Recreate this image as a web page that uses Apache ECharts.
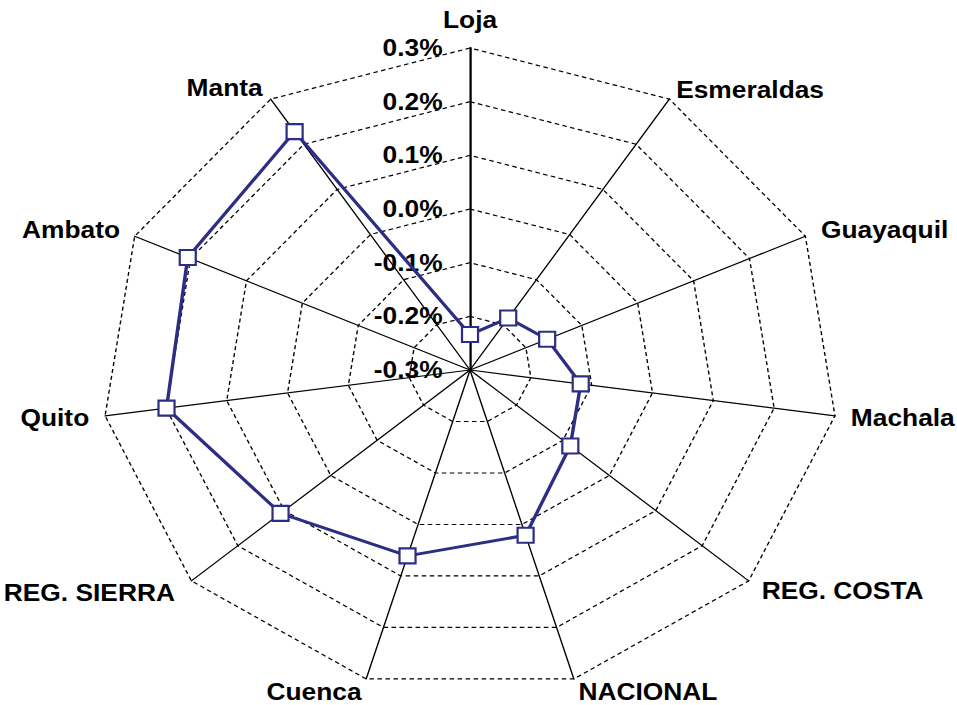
<!DOCTYPE html>
<html>
<head>
<meta charset="utf-8">
<script src="https://cdn.jsdelivr.net/npm/echarts@6/dist/echarts.min.js"></script>
<style>
  html, body { margin: 0; padding: 0; background: #fff; overflow: hidden; }
  /* the original picture is stretched sideways, so the chart is too */
  #radar { position: absolute; left: 0; top: 0; width: 836px; height: 705px;
           transform: scaleX(1.145); transform-origin: 0 0; }
</style>
</head>
<body>
<div id="radar"></div>
<script>
// clockwise from the top, as in the picture
var cities = ['Loja', 'Esmeraldas', 'Guayaquil', 'Machala', 'REG. COSTA', 'NACIONAL',
              'Cuenca', 'REG. SIERRA', 'Quito', 'Ambato', 'Manta'];
var values = [-0.234, -0.185, -0.162, -0.118, -0.084, 0.021, 0.061, 0.108, 0.199, 0.205, 0.228];
var nameGaps = [16, 11, 15, 14, 15, 14, 14, 19, 14, 14, 13];
var axisMin = -0.3;
var axisMax = 0.3;

var chartDom = document.getElementById('radar');
var myChart = echarts.init(chartDom, null, { renderer: 'svg' });
var option;

// echarts goes counter-clockwise, so keep the first one and flip the rest
var order = [0];
for (var i = cities.length - 1; i > 0; i--) order.push(i);

var indicators = order.map(function (k) {
  var ind = { name: cities[k], min: axisMin, max: axisMax, nameGap: nameGaps[k] };
  if (k === 0) {
    ind.axisLabel = { show: true };
    ind.axisLine = { lineStyle: { width: 2 } };
  }
  return ind;
});

option = {
  animation: false,
  radar: {
    center: [410.5, 370],
    radius: 322,
    startAngle: 90,
    shape: 'polygon',
    splitNumber: 6,
    indicator: indicators,
    axisName: {
      color: '#000',
      fontFamily: 'Liberation Sans, Arial',
      fontWeight: 'bold',
      fontSize: 23
    },
    axisLine: { lineStyle: { color: '#000', width: 1.2 } },
    splitLine: { lineStyle: { color: '#000', width: 1.2, type: [4, 3] } },
    splitArea: { show: false },
    axisTick: { show: false },
    axisLabel: {
      show: false,
      color: '#000',
      fontFamily: 'Liberation Sans, Arial',
      fontWeight: 'bold',
      fontSize: 23,
      margin: 24,
      formatter: function (v) {
        if (Math.abs(v) < 1e-9) v = 0;
        return v.toFixed(1) + '%';
      }
    }
  },
  series: [
    {
      type: 'radar',
      symbol: 'rect',
      symbolSize: [14, 15],
      lineStyle: { color: '#2B2E83', width: 3 },
      itemStyle: { color: '#fff', borderColor: '#2B2E83', borderWidth: 2 },
      data: [{ value: order.map(function (k) { return values[k]; }) }]
    }
  ]
};

option && myChart.setOption(option);
</script>
</body>
</html>
